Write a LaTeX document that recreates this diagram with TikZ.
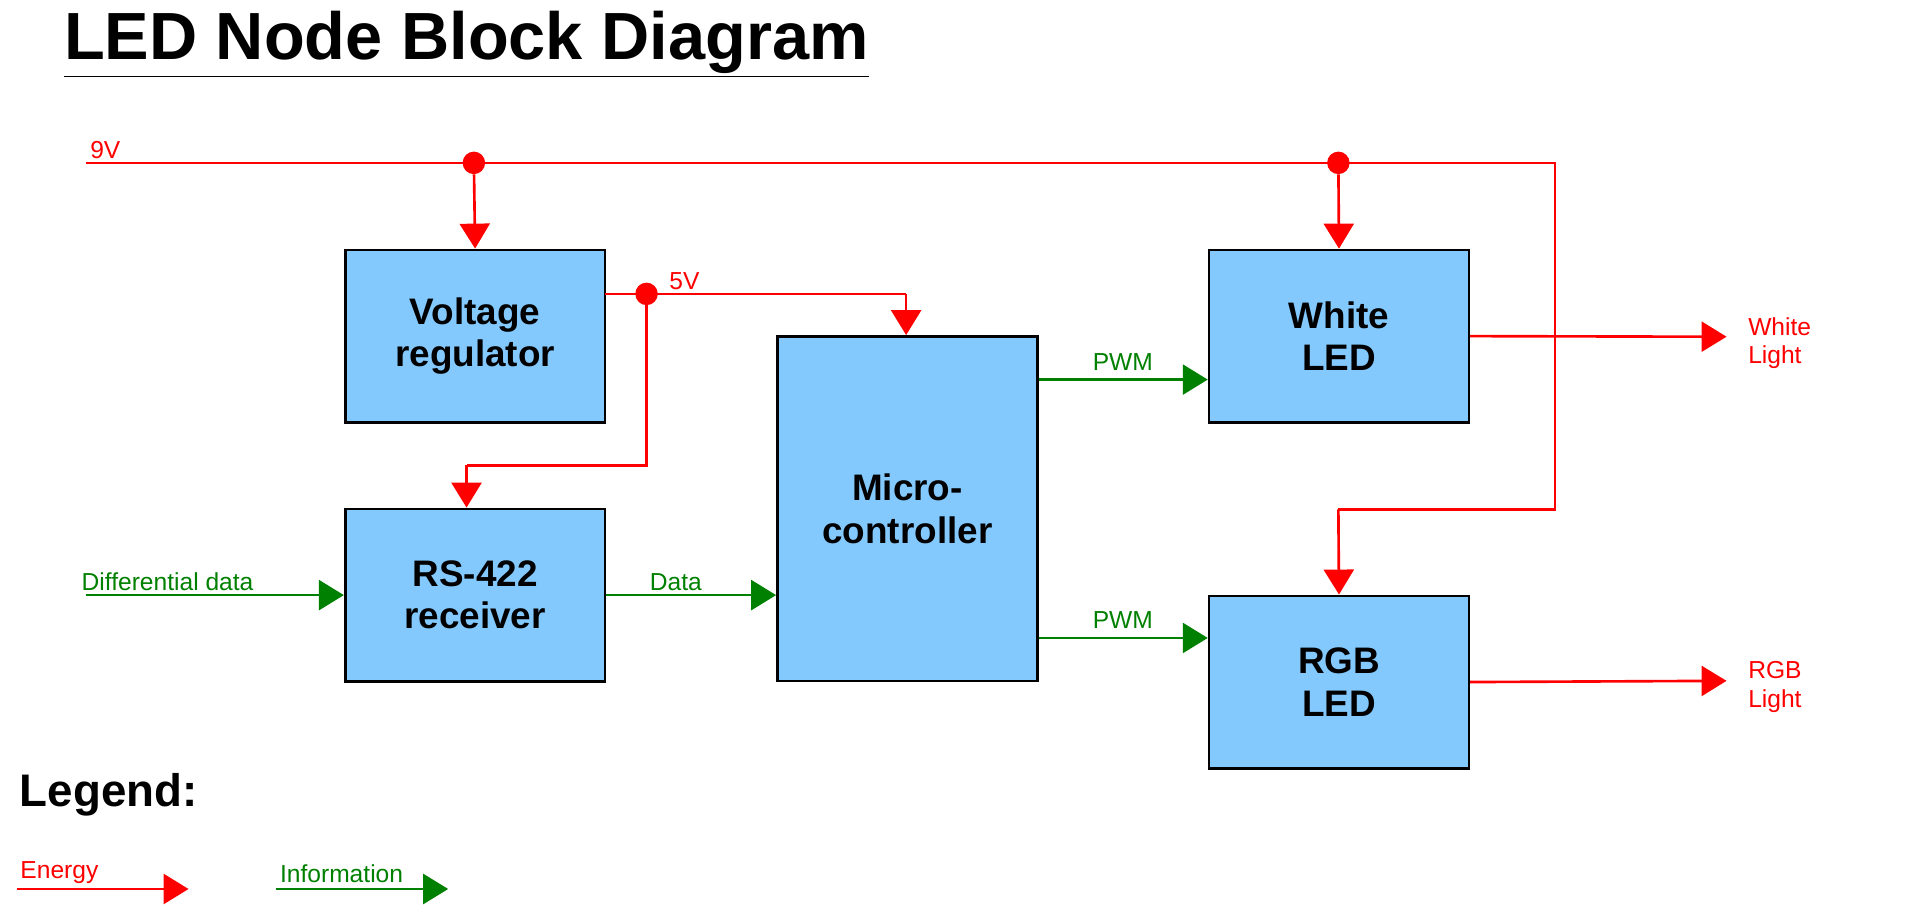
\documentclass[tikz,border=0pt]{standalone}
\usepackage{fontspec}
\setmainfont{Liberation Sans}
\usetikzlibrary{arrows.meta, positioning, calc}
\definecolor{boxblue}{HTML}{83C9FD}
\definecolor{energy}{HTML}{FF0000}
\definecolor{info}{HTML}{008000}
\begin{document}
\begin{tikzpicture}[x=0.0245cm, y=-0.0245cm, >={Triangle[length=0.5cm, width=0.6cm]},
  Block/.style={draw, line width=1.5pt, fill=boxblue, minimum width=5.2cm, minimum height=3.45cm, align=center, font=\fontsize{21}{24}\selectfont\bfseries},
  Energy/.style={energy, line width=1.5pt},
  Info/.style={info, line width=1.5pt},
  Lbl/.style={font=\fontsize{14}{16}\selectfont, inner sep=1pt},
  Dot/.style={circle, fill=energy, inner sep=0pt, minimum size=0.45cm}]
\useasboundingbox (0,0) rectangle (1568,740);
% title
\node[anchor=west, font=\fontsize{38}{44}\selectfont\bfseries, inner sep=0pt] (title) at (52,36) {\underline{LED Node Block Diagram}};
% blocks
\node[Block] (vreg) at (388,274.5) {Voltage\\regulator};
\node[Block] (rs) at (388,486) {RS-422\\receiver};
\node[Block, minimum height=6.9cm] (mcu) at (741,415.5) {Micro-\\controller};
\node[Block] (wled) at (1093.5,274.5) {White\\LED};
\node[Block] (rgb) at (1093.5,557) {RGB\\LED};
% 9V rail
\coordinate (v9) at (70,133);
\coordinate (v9end) at (1270,133);
\node[Dot] (d1) at (387,133) {};
\node[Dot] (d2) at (1093,133) {};
\draw[Energy] (v9) -- (v9end) -- (1270,416) -- (1093,416) coordinate (rgbin);
\draw[Energy, ->] (rgbin) -- (rgb.north);
\draw[Energy, ->] (d1) -- (vreg.north);
\draw[Energy, ->] (d2) -- (wled.north);
\node[Lbl, energy, anchor=south west] (l9v) at (72,131) {9V};
% 5V rail
\coordinate (v5) at (494,240);
\node[Dot] (d3) at (528,240) {};
\draw[Energy] (v5) -- (740,240) coordinate (mcuin);
\draw[Energy, ->] (mcuin) -- (mcu.north -| mcuin);
\draw[Energy] (d3) -- (528,380) -- (381,380) coordinate (rsin);
\draw[Energy, ->] (rsin) -- (rs.north -| rsin);
\node[Lbl, energy, anchor=south west] (l5v) at (545,238) {5V};
% data
\coordinate (diff) at (70,486);
\draw[Info, ->] (diff) -- (rs.west);
\node[Lbl, info, anchor=south west] (ldiff) at (65,484) {Differential data};
\draw[Info, ->] (rs.east) -- (mcu.west |- rs.east);
\node[Lbl, info, anchor=south] (ldata) at (552,484) {Data};
\draw[Info, ->] (mcu.east |- 0,310) coordinate (p1) -- (wled.west |- p1);
\node[Lbl, info, anchor=south] (lpwm1) at (917,304) {PWM};
\draw[Info, ->] (mcu.east |- 0,521) coordinate (p2) -- (rgb.west |- p2);
\node[Lbl, info, anchor=south] (lpwm2) at (917,515) {PWM};
% outputs
\coordinate (wout) at (1410,275);
\coordinate (rout) at (1410,556);
\draw[Energy, ->] (wled.east) -- (wout);
\draw[Energy, ->] (rgb.east) -- (rout);
\node[Lbl, energy, anchor=west, align=left] (lwl) at (1426,280) {White\\Light};
\node[Lbl, energy, anchor=west, align=left] (lrl) at (1426,561) {RGB\\Light};
% legend
\node[anchor=west, font=\fontsize{26}{30}\selectfont\bfseries, inner sep=0pt] (legend) at (16,649) {Legend:};
\coordinate (e1) at (14,726);
\coordinate (e2) at (154,726);
\coordinate (i1) at (225,726);
\coordinate (i2) at (366,726);
\draw[Energy, ->] (e1) -- (e2);
\draw[Info, ->] (i1) -- (i2);
\node[Lbl, energy, anchor=south west] (lene) at (15,723) {Energy};
\node[Lbl, info, anchor=south west] (linf) at (227,723) {Information};
\end{tikzpicture}
\end{document}
